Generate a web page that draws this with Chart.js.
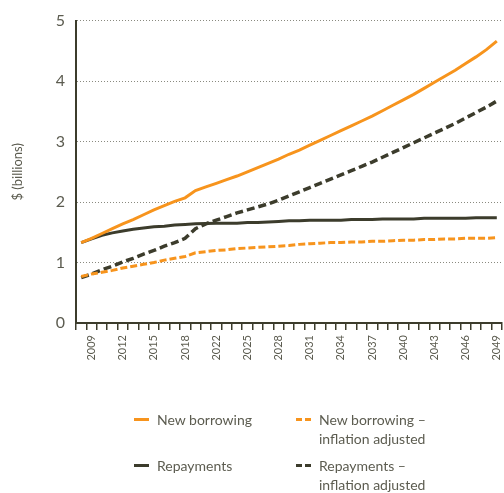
<!DOCTYPE html>
<html>
<head>
<meta charset="utf-8">
<script src="https://cdn.jsdelivr.net/npm/chart.js@4/dist/chart.umd.min.js"></script>
<style>
  body { margin: 0; background: #fff; }
  #wrap { position: relative; width: 504px; height: 493px; overflow: hidden; }
  #chart { position: absolute; left: 0; top: 0; }
  #legend { position: absolute; left: 0; top: 0; width: 504px; height: 493px;
            font-family: Lato, 'Open Sans', sans-serif; font-size: 14px; color: #5c5c50; }
  .item { position: absolute; line-height: 19px; white-space: pre; }
  .swatch { position: absolute; left: 0; top: 8px; width: 15px; height: 3px; }
  .text { position: absolute; left: 23px; top: 0; }
</style>
</head>
<body>
<div id="wrap">
  <canvas id="chart" width="504" height="400"></canvas>
  <div id="legend"></div>
</div>
<script>
// Financial years on the x axis (2019 is not in the series)
const years = [
  '2008','2009','2010','2011','2012','2013','2014','2015','2016','2017','2018',
  '2020','2021','2022','2023','2024','2025','2026','2027','2028','2029',
  '2030','2031','2032','2033','2034','2035','2036','2037','2038','2039',
  '2040','2041','2042','2043','2044','2045','2046','2047','2048','2049'
];

// $ billions
const newBorrowing = [
  1.33, 1.40, 1.48, 1.56, 1.64, 1.71, 1.79, 1.87, 1.94, 2.01, 2.07,
  2.19, 2.25, 2.31, 2.37, 2.43, 2.50, 2.57, 2.64, 2.71, 2.79,
  2.86, 2.94, 3.02, 3.10, 3.18, 3.26, 3.34, 3.42, 3.51, 3.60,
  3.69, 3.78, 3.88, 3.98, 4.08, 4.18, 4.29, 4.40, 4.52, 4.66
];
const newBorrowingReal = [
  0.77, 0.81, 0.84, 0.87, 0.91, 0.94, 0.97, 1.00, 1.04, 1.07, 1.10,
  1.16, 1.18, 1.20, 1.21, 1.23, 1.24, 1.25, 1.26, 1.27, 1.28,
  1.30, 1.31, 1.32, 1.33, 1.33, 1.34, 1.34, 1.35, 1.35, 1.36,
  1.37, 1.37, 1.38, 1.38, 1.39, 1.39, 1.40, 1.40, 1.40, 1.41
];
const repayments = [
  1.33, 1.39, 1.45, 1.49, 1.52, 1.55, 1.57, 1.59, 1.60, 1.62, 1.63,
  1.64, 1.645, 1.65, 1.65, 1.65, 1.66, 1.66, 1.67, 1.68, 1.69,
  1.69, 1.70, 1.70, 1.70, 1.70, 1.71, 1.71, 1.71, 1.72, 1.72,
  1.72, 1.72, 1.73, 1.73, 1.73, 1.73, 1.73, 1.74, 1.74, 1.74
];
const repaymentsReal = [
  0.75, 0.81, 0.88, 0.94, 1.01, 1.07, 1.14, 1.20, 1.27, 1.33, 1.40,
  1.56, 1.64, 1.70, 1.76, 1.82, 1.87, 1.92, 1.97, 2.03, 2.10,
  2.17, 2.24, 2.31, 2.38, 2.45, 2.52, 2.59, 2.66, 2.74, 2.82,
  2.90, 2.98, 3.06, 3.14, 3.22, 3.30, 3.39, 3.48, 3.57, 3.67
];

const seriesNames = [
  'New borrowing',
  'New borrowing –\ninflation adjusted',
  'Repayments',
  'Repayments –\ninflation adjusted'
];
const yTicks = [0, 1, 2, 3, 4, 5];
const yTitle = '$ (billions)';

const ORANGE = '#f7941d';
const DARK = '#3c3c2c';
const TEXT = '#5c5c50';

Chart.defaults.font.family = "Lato, 'Open Sans', sans-serif";
Chart.defaults.color = TEXT;

function line(label, data, color, dash, width) {
  return {
    label, data,
    borderColor: color,
    backgroundColor: color,
    borderWidth: width,
    borderDash: dash,
    pointRadius: 0,
    tension: 0,
    fill: false,
    borderCapStyle: 'butt'
  };
}

const chart = new Chart(document.getElementById('chart'), {
  type: 'line',
  data: {
    labels: years,
    datasets: [
      line(seriesNames[0], newBorrowing, ORANGE, [], 3),
      line(seriesNames[1], newBorrowingReal, ORANGE, [7, 3], 3),
      line(seriesNames[2], repayments, DARK, [], 3),
      line(seriesNames[3], repaymentsReal, DARK, [8, 4], 3.5)
    ]
  },
  options: {
    responsive: false,
    animation: false,
    events: [],
    layout: { padding: { top: 20, right: 2, left: 0, bottom: 0 } },
    plugins: { legend: { display: false }, tooltip: { enabled: false } },
    scales: {
      x: {
        offset: true,
        grid: {
          offset: true,
          drawOnChartArea: false,
          drawTicks: true,
          tickLength: 7,
          color: DARK,
          lineWidth: 1.5
        },
        border: { display: true, color: DARK, width: 2 },
        ticks: {
          autoSkip: false,
          minRotation: 90,
          maxRotation: 90,
          padding: 5,
          color: TEXT,
          font: { size: 11 },
          // one label every third year, starting at 2009
          callback: (v, i) => (i % 3 === 1 ? years[i] : '')
        },
        afterFit: (s) => { s.height = 77; s.paddingLeft = 0; s.paddingRight = 0; }
      },
      y: {
        min: yTicks[0],
        max: yTicks[yTicks.length - 1],
        afterBuildTicks: (s) => { s.ticks = yTicks.map(v => ({ value: v })); },
        grid: {
          drawTicks: false,
          color: '#8a8a80',
          lineWidth: 1
        },
        border: { display: true, color: DARK, width: 2, dash: [1, 2] },
        ticks: {
          padding: 11,
          color: TEXT,
          font: { size: 16 }
        },
        title: {
          display: true,
          text: yTitle,
          color: TEXT,
          font: { size: 13 },
          padding: { top: 10, bottom: 0 }
        },
        afterFit: (s) => { s.width = 76; }
      }
    }
  }
});

// Two-column legend built from the chart's datasets
const legendPos = [
  { left: 134, top: 410 },
  { left: 296, top: 410 },
  { left: 134, top: 456 },
  { left: 296, top: 456 }
];
const legend = document.getElementById('legend');
chart.data.datasets.forEach((ds, i) => {
  const item = document.createElement('div');
  item.className = 'item';
  item.style.left = legendPos[i].left + 'px';
  item.style.top = legendPos[i].top + 'px';
  const sw = document.createElement('div');
  sw.className = 'swatch';
  if (ds.borderDash && ds.borderDash.length) {
    sw.style.background = `repeating-linear-gradient(to right, ${ds.borderColor} 0 6px, transparent 6px 9px)`;
  } else {
    sw.style.background = ds.borderColor;
  }
  const tx = document.createElement('div');
  tx.className = 'text';
  tx.textContent = ds.label;
  item.appendChild(sw);
  item.appendChild(tx);
  legend.appendChild(item);
});
</script>
</body>
</html>
